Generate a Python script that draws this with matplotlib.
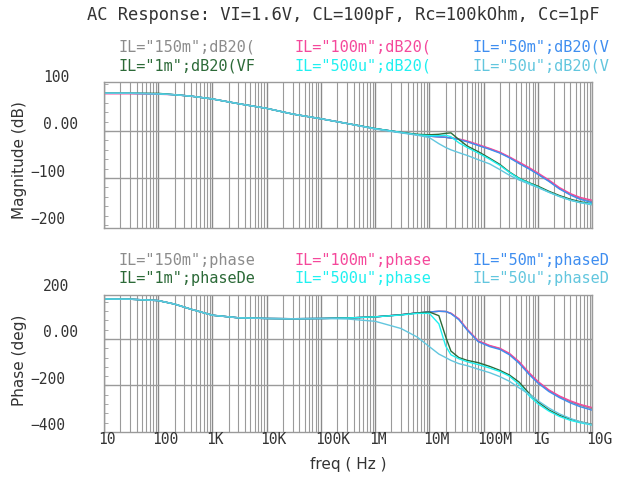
import matplotlib
matplotlib.use("Agg")
import matplotlib.pyplot as plt
from matplotlib.ticker import LogLocator, NullFormatter
from matplotlib.transforms import blended_transform_factory, ScaledTranslation

plt.rcParams['font.family'] = ['DejaVu Sans Mono']

title = 'AC Response: VI=1.6V, CL=100pF, Rc=100kOhm, Cc=1pF'

freq = [10, 30, 100, 200, 400, 1e3, 3e3, 1e4, 3e4, 1e5, 3e5, 1e6,
        3e6, 6e6, 1e7, 1.5e7, 2e7, 2.5e7, 3.5e7, 5e7, 8e7, 1.3e8, 2e8,
        3e8, 4.5e8, 7e8, 1e9, 1.6e9, 2.5e9, 4e9, 6e9, 1e10]

# magnitude in dB, one list per load current
mag_150m = [80, 80, 79, 77, 74, 68, 58, 48, 36, 26, 16, 5,
            -3, -8, -11, -12.5, -13.5, -15, -17.5, -22, -30, -38, -46,
            -56, -68, -80, -91, -106, -122, -135, -143, -150]
mag_100m = [79, 79, 78, 77, 74, 68, 58, 48, 36, 26, 16, 5,
            -3, -8, -11, -12.5, -13.5, -14.5, -17, -21, -29, -37, -45,
            -55, -66, -78, -89, -104, -120, -133, -141, -147]
mag_50m = [80, 80, 79, 77, 74, 68, 58, 48, 36, 26, 16, 5,
           -3, -8, -11, -12.5, -13.5, -15, -18, -23, -31, -39, -47,
           -57, -69, -81, -92, -107, -123, -136, -145, -152]
mag_1m = [80, 80, 80, 77, 74, 68, 58, 48, 36, 26, 16, 5,
          -3, -7, -8, -7, -5, -4, -18, -32, -44, -58, -71,
          -87, -100, -110, -117, -128, -137, -145, -150, -155]
mag_500u = [80, 80, 79, 77, 74, 68, 58, 48, 36, 26, 16, 5,
            -3, -8, -10, -10, -9, -12, -25, -35, -47, -60, -73,
            -88, -101, -111, -119, -130, -139, -147, -152, -155]
mag_50u = [80, 80, 79, 77, 74, 68, 58, 48, 36, 26, 16, 4,
           -4, -9, -14, -27, -35, -40, -46, -52, -61, -70, -82,
           -94, -104, -113, -120, -130, -139, -147, -152, -157]

# phase in degrees
ph_150m = [172, 171, 165, 150, 128, 102, 91, 88, 87, 88, 90, 95,
           104, 112, 116, 119, 118, 110, 85, 40, -10, -30, -42,
           -65, -100, -150, -185, -222, -248, -270, -285, -300]
ph_100m = [172, 171, 165, 150, 128, 102, 91, 88, 87, 88, 90, 95,
           104, 112, 116, 119, 118, 111, 87, 42, -8, -28, -40,
           -62, -97, -146, -182, -219, -245, -266, -281, -295]
ph_50m = [172, 171, 165, 150, 128, 102, 91, 88, 87, 88, 90, 95,
          104, 112, 116, 119, 118, 109, 83, 38, -12, -33, -45,
          -68, -104, -154, -189, -226, -252, -275, -291, -306]
ph_1m = [172, 171, 165, 150, 128, 102, 91, 88, 87, 88, 90, 95,
         104, 112, 116, 100, 10, -52, -80, -92, -102, -118, -135,
         -155, -185, -235, -270, -305, -328, -345, -356, -367]
ph_500u = [172, 171, 165, 150, 128, 102, 91, 88, 87, 88, 90, 95,
           103, 110, 110, 65, -30, -68, -85, -98, -110, -125, -140,
           -160, -195, -245, -278, -310, -333, -350, -360, -370]
ph_50u = [172, 171, 165, 150, 128, 102, 91, 88, 87, 88, 86, 76,
          45, 8, -33, -65, -80, -92, -106, -115, -130, -145, -162,
          -182, -210, -238, -265, -297, -322, -342, -356, -368]

labels = ['IL="150m"', 'IL="100m"', 'IL="50m"', 'IL="1m"', 'IL="500u"', 'IL="50u"']
mag_tags = [';dB20(', ';dB20(', ';dB20(V', ';dB20(VF', ';dB20(', ';dB20(V']
ph_tags = [';phase', ';phase', ';phaseD', ';phaseDe', ';phase', ';phaseD']
colors = ['#8c8c8c', '#f5489b', '#3f8ef0', '#2c6a38', '#1ff0f0', '#62c6de']

mags = [mag_150m, mag_100m, mag_50m, mag_1m, mag_500u, mag_50u]
phases = [ph_150m, ph_100m, ph_50m, ph_1m, ph_500u, ph_50u]

decades = [10, 100, 1e3, 1e4, 1e5, 1e6, 1e7, 1e8, 1e9, 1e10]
dec_labels = ['10', '100', '1K', '10K', '100K', '1M', '10M', '100M', '1G', '10G']

grid_c = '#9a9a9a'
text_c = '#333333'

W, H = 627, 482
fig = plt.figure(figsize=(W / 100, H / 100), dpi=100)
ax1 = fig.add_axes([104 / W, 1 - 228 / H, 488 / W, 146 / H])
ax2 = fig.add_axes([104 / W, 1 - 432 / H, 488 / W, 137 / H])


def setup(ax, ylim, ygrid, yticks, ylabels, minor_step, ylabel, yc):
    ax.set_xscale('log')
    ax.set_xlim(10, 1e10)
    ax.set_ylim(*ylim)
    ax.xaxis.set_major_locator(LogLocator(base=10, numticks=20))
    ax.xaxis.set_minor_locator(LogLocator(base=10, subs=range(2, 10), numticks=200))
    ax.xaxis.set_minor_formatter(NullFormatter())
    for s in ax.spines.values():
        s.set_color(grid_c)
        s.set_linewidth(1.0)
    ax.grid(True, which='major', axis='x', color='#8a8a8a', lw=1.0)
    ax.grid(True, which='minor', axis='x', color=grid_c, lw=0.8)
    ax.set_yticks(ygrid)
    ax.set_yticks([v for v in range(int(ylim[0]), int(ylim[1]) + 1)
                   if v % minor_step == 0], minor=True)
    ax.grid(True, which='major', axis='y', color=grid_c, lw=1.0)
    ax.tick_params(axis='y', which='both', direction='in', length=3,
                   color=grid_c, labelleft=False, left=True)
    ax.tick_params(axis='x', which='both', length=0, labelbottom=False)
    ax.set_axisbelow(True)
    # y labels sit a little above their values, minus sign hangs left
    tr = blended_transform_factory(fig.transFigure, ax.transData) + \
        ScaledTranslation(0, 6 / 100, fig.dpi_scale_trans)
    for v, lab in zip(yticks, ylabels):
        x0 = 30 / W if lab.startswith('\u2212') else 43 / W
        ax.text(x0, v, lab, transform=tr, ha='left', va='center',
                fontsize=10.5, color=text_c, clip_on=False)
    fig.text(20 / W, 1 - yc / H, ylabel, rotation=90, ha='center',
             va='center', fontsize=11, color=text_c, family='DejaVu Sans')


setup(ax1, (-206, 104), [0, -100], [100, 0, -100, -200],
      ['100', '0.00', '\u2212100', '\u2212200'], 20, 'Magnitude (dB)', 160)
setup(ax2, (-400, 189), [0, -200], [200, 0, -200, -400],
      ['200', '0.00', '\u2212200', '\u2212400'], 40, 'Phase (deg)', 360)

for m, p, c in zip(mags, phases, colors):
    ax1.plot(freq, m, color=c, lw=1.0)
    ax2.plot(freq, p, color=c, lw=1.0)

# frequency labels under the lower plot
trx = blended_transform_factory(ax2.transData, ax2.transAxes) + \
    ScaledTranslation(-6 / 100, -0.08, fig.dpi_scale_trans)
for d, lab in zip(decades, dec_labels):
    ax2.text(d, 0, lab, transform=trx, ha='left', va='center',
             fontsize=10.5, color=text_c, clip_on=False)

fig.text(348 / W, 1 - 465 / H, 'freq ( Hz )', ha='center', va='center',
         fontsize=11, color=text_c, family='DejaVu Sans')
fig.text(343 / W, 1 - 15 / H, title, ha='center', va='center',
         fontsize=12.3, color=text_c)

# two-row legends above each plot
cols = [118, 294, 472]
for rows, tags in (((47, 66), mag_tags), ((260, 279), ph_tags)):
    for i, (lab, tag, c) in enumerate(zip(labels, tags, colors)):
        fig.text(cols[i % 3] / W, 1 - rows[i // 3] / H, lab + tag,
                 ha='left', va='center', fontsize=11, color=c)

fig.savefig('out.png', dpi=100)
